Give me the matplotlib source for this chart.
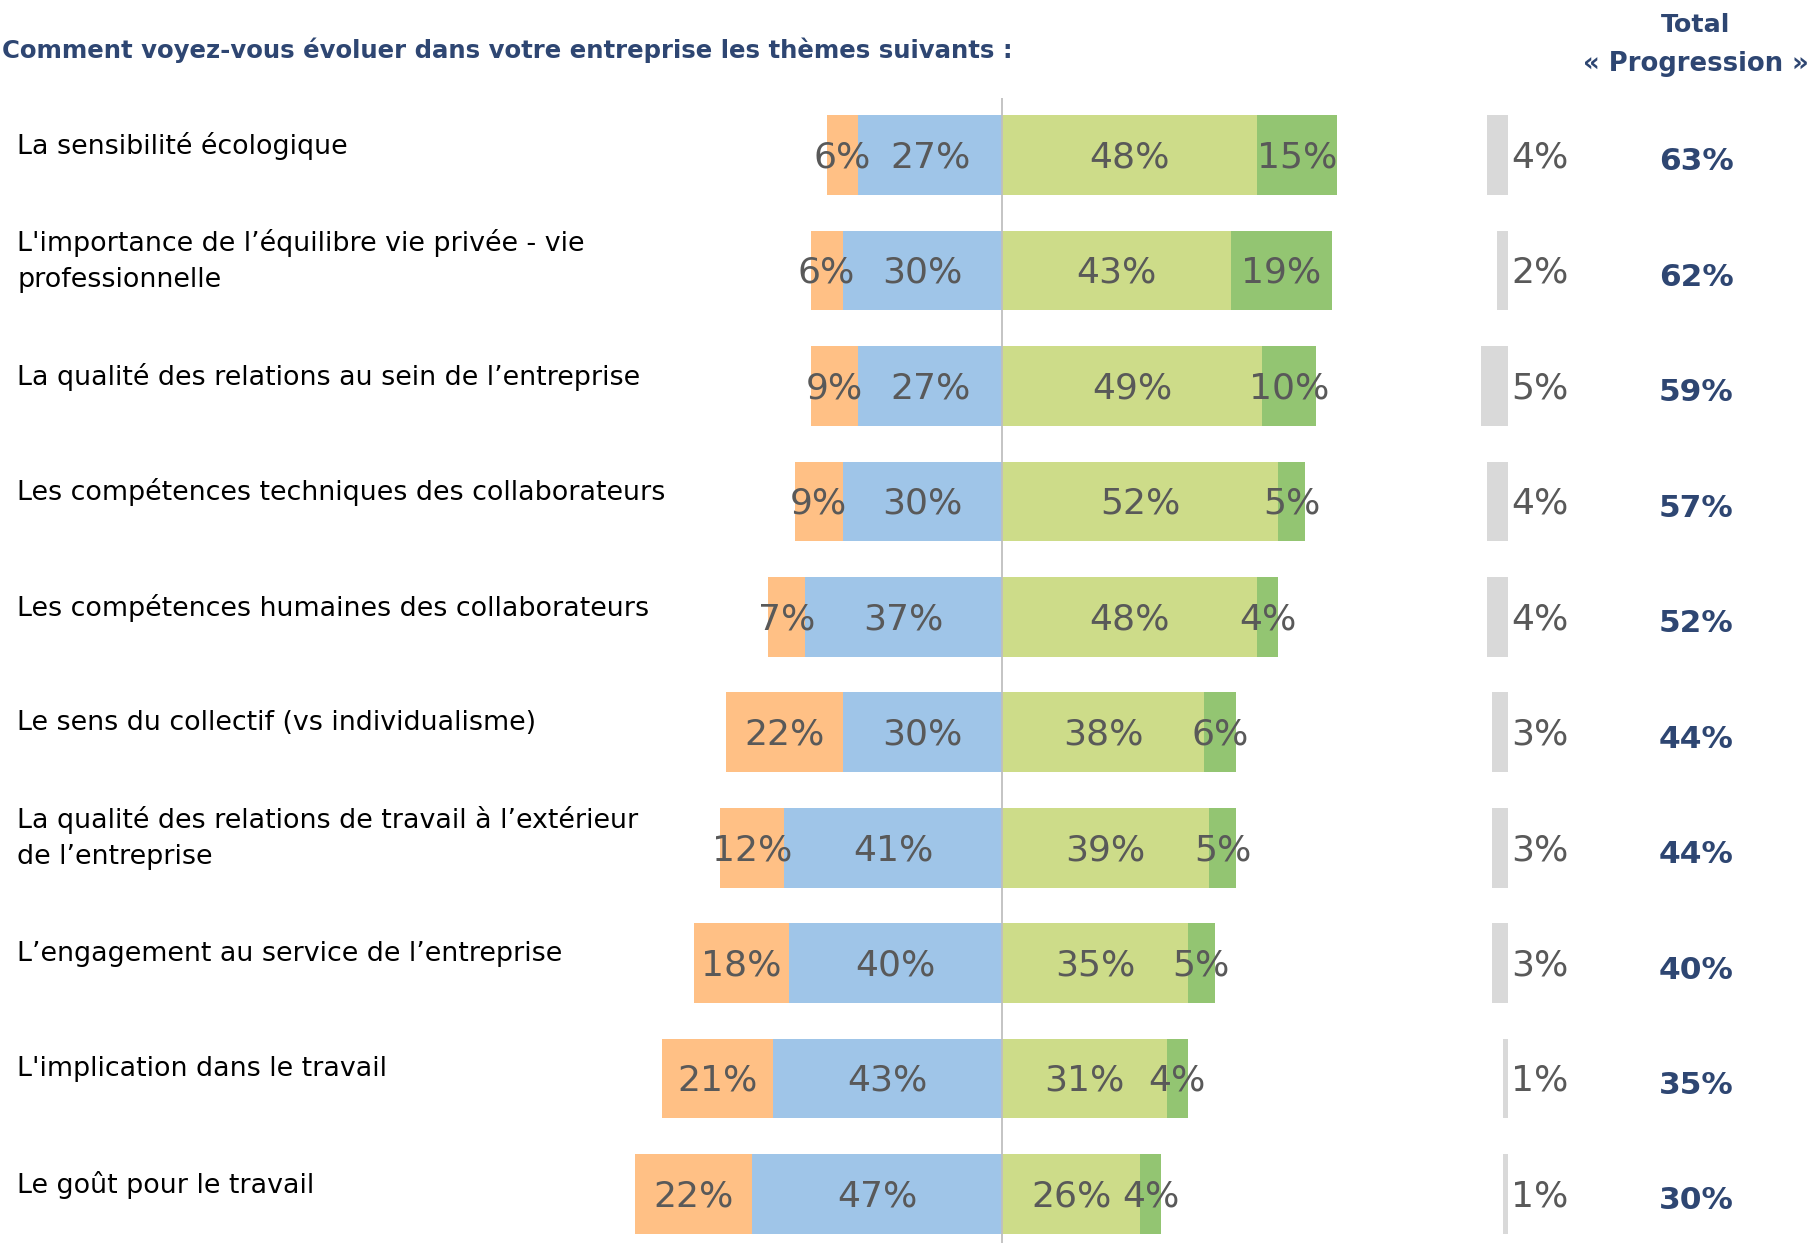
import matplotlib
matplotlib.use("Agg")
import matplotlib.pyplot as plt
from matplotlib.transforms import blended_transform_factory

# --- data ---
themes = [
    "La sensibilité écologique",
    "L'importance de l’équilibre vie privée - vie\nprofessionnelle",
    "La qualité des relations au sein de l’entreprise",
    "Les compétences techniques des collaborateurs",
    "Les compétences humaines des collaborateurs",
    "Le sens du collectif (vs individualisme)",
    "La qualité des relations de travail à l’extérieur\nde l’entreprise",
    "L’engagement au service de l’entreprise",
    "L'implication dans le travail",
    "Le goût pour le travail",
]
regression_forte = [6, 6, 9, 9, 7, 22, 12, 18, 21, 22]
regression = [27, 30, 27, 30, 37, 30, 41, 40, 43, 47]
progression = [48, 43, 49, 52, 48, 38, 39, 35, 31, 26]
progression_forte = [15, 19, 10, 5, 4, 6, 5, 5, 4, 4]
nsp = [4, 2, 5, 4, 4, 3, 3, 3, 1, 1]
total_progression = [63, 62, 59, 57, 52, 44, 44, 40, 35, 30]

title = "Comment voyez-vous évoluer dans votre entreprise les thèmes suivants :"

# --- style ---
C_ORANGE = "#FFC085"
C_BLUE = "#9FC5E8"
C_LGREEN = "#CDDC89"
C_DGREEN = "#93C572"
C_GREY = "#D9D9D9"
C_LABEL = "#595959"
C_NAVY = "#2E4672"
FONT = "DejaVu Sans"

W, H = 1812, 1243
CENTER_PX = 1002          # x pixel of the zero line
PX_PER_PCT = 5.315        # pixels per percentage point
ROW0_PX, ROW_STEP = 155, 115.45
NSP_ANCHOR = (1508 - CENTER_PX) / PX_PER_PCT
TOTAL_X = (1696 - CENTER_PX) / PX_PER_PCT

fig = plt.figure(figsize=(W / 100, H / 100), dpi=100)
ax = fig.add_axes([0, 0, 1, 1])
ax.set_xlim(-CENTER_PX / PX_PER_PCT, (W - CENTER_PX) / PX_PER_PCT)
ax.set_ylim((H - ROW0_PX) / ROW_STEP, -ROW0_PX / ROW_STEP)
ax.axis("off")

rows = list(range(len(themes)))
bh = 0.69

ax.barh(rows, [-v for v in regression], height=bh, color=C_BLUE, zorder=2)
ax.barh(rows, [-v for v in regression_forte], left=[-v for v in regression],
        height=bh, color=C_ORANGE, zorder=2)
ax.barh(rows, progression, height=bh, color=C_LGREEN, zorder=2)
ax.barh(rows, progression_forte, left=progression, height=bh, color=C_DGREEN, zorder=2)
ax.barh(rows, [-v for v in nsp], left=NSP_ANCHOR, height=bh, color=C_GREY, zorder=2)

ax.vlines(0, -0.49, ax.get_ylim()[0], color="#BFBFBF", lw=1.3, zorder=3)

lab_kw = dict(ha="center", va="center", fontsize=26, color=C_LABEL, family=FONT, zorder=4)
for i in rows:
    y = i + 0.02
    ax.text(-regression[i] / 2, y, f"{regression[i]}%", **lab_kw)
    ax.text(-regression[i] - regression_forte[i] / 2, y, f"{regression_forte[i]}%", **lab_kw)
    ax.text(progression[i] / 2, y, f"{progression[i]}%", **lab_kw)
    ax.text(progression[i] + progression_forte[i] / 2, y, f"{progression_forte[i]}%", **lab_kw)
    ax.text(NSP_ANCHOR + 0.6, y, f"{nsp[i]}%", ha="left", va="center",
            fontsize=26, color=C_LABEL, family=FONT)
    ax.text(TOTAL_X, i + 0.06, f"{total_progression[i]}%", ha="center", va="center",
            fontsize=22.5, fontweight="bold", color=C_NAVY, family=FONT)

tr = blended_transform_factory(fig.transFigure, ax.transData)
for i, t in enumerate(themes):
    ax.text(17 / W, i - 0.08, t, transform=tr, ha="left", va="center",
            fontsize=19.4, color="black", family=FONT, linespacing=1.5)

fig.text(2 / W, 1 - 50 / H, title, ha="left", va="center", fontsize=17.6,
         fontweight="bold", color=C_NAVY, family=FONT)
fig.text(1696 / W, 1 - 25 / H, "Total", ha="center", va="center", fontsize=18.3,
         fontweight="bold", color=C_NAVY, family=FONT)
fig.text(1696 / W, 1 - 64 / H, "« Progression »", ha="center", va="center",
         fontsize=18.6, fontweight="bold", color=C_NAVY, family=FONT)

fig.savefig("out.png", dpi=100)
